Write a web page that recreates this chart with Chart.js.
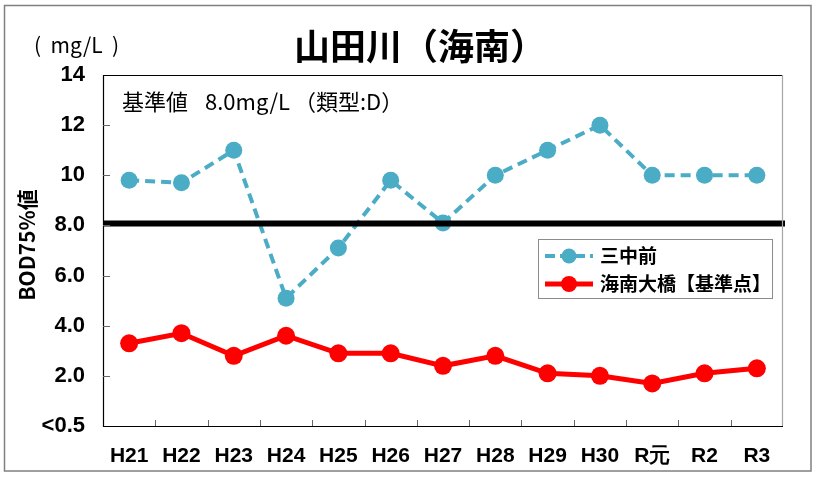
<!DOCTYPE html>
<html lang="ja">
<head>
  <meta charset="UTF-8">
  <title>山田川(海南)</title>
  <script src="https://cdn.jsdelivr.net/npm/chart.js"></script>
  <style>
    body { margin: 0; background: #fff; }
  </style>
</head>
<body>
  <canvas id="bodChart" width="818" height="479"></canvas>

  <script>
    // data
    const years = ['H21', 'H22', 'H23', 'H24', 'H25', 'H26', 'H27', 'H28', 'H29', 'H30', 'R元', 'R2', 'R3'];
    const mitakamae = [9.8, 9.7, 11.0, 5.1, 7.1, 9.8, 8.1, 10.0, 11.0, 12.0, 10.0, 10.0, 10.0];
    const kainanOhashi = [3.3, 3.7, 2.8, 3.6, 2.9, 2.9, 2.4, 2.8, 2.1, 2.0, 1.7, 2.1, 2.3];
    const seriesNames = ['三中前', '海南大橋【基準点】'];
    const yTicks = [0, 2, 4, 6, 8, 10, 12, 14];
    const yTickLabels = ['<0.5', '2.0', '4.0', '6.0', '8.0', '10', '12', '14'];
    const standardValue = 8.0;

    const CJK = '"Noto Sans CJK JP", sans-serif';
    const LAT = '"Liberation Sans", Arial, sans-serif';
    const CYAN = '#4BACC6';
    const RED = '#FF0000';

    // frame, standard line, inside ticks, texts and legend
    const decorations = {
      id: 'decorations',
      afterDatasetsDraw(chart) {
        const { ctx, chartArea: a, scales: { x, y } } = chart;
        ctx.save();

        // standard value line
        const ys = y.getPixelForValue(standardValue) - 2;
        ctx.strokeStyle = '#000';
        ctx.lineWidth = 6;
        ctx.beginPath();
        ctx.moveTo(a.left, ys);
        ctx.lineTo(a.right + 2, ys);
        ctx.stroke();

        // plot border
        ctx.lineWidth = 1.2;
        ctx.strokeStyle = '#000';
        ctx.beginPath();
        ctx.moveTo(a.right, a.top + 0.5);
        ctx.lineTo(a.left + 0.5, a.top + 0.5);
        ctx.lineTo(a.left + 0.5, a.bottom + 0.5);
        ctx.lineTo(a.right, a.bottom + 0.5);
        ctx.stroke();
        ctx.strokeStyle = '#a6a6a6';
        ctx.beginPath();
        ctx.moveTo(a.right - 0.5, a.top);
        ctx.lineTo(a.right - 0.5, a.bottom);
        ctx.stroke();

        // inside tick marks
        ctx.strokeStyle = '#666';
        ctx.lineWidth = 1;
        ctx.beginPath();
        yTicks.slice(1, -1).forEach(v => {
          const py = Math.round(y.getPixelForValue(v)) + 0.5;
          ctx.moveTo(a.left, py);
          ctx.lineTo(a.left + 7, py);
        });
        const step = (a.right - a.left) / years.length;
        for (let i = 1; i < years.length; i++) {
          const px = Math.round(a.left + step * i) + 0.5;
          ctx.moveTo(px, a.bottom);
          ctx.lineTo(px, a.bottom - 6);
        }
        ctx.stroke();
        ctx.restore();
      },
      afterDraw(chart) {
        const { ctx } = chart;
        ctx.save();
        ctx.fillStyle = '#000';
        ctx.textBaseline = 'middle';

        // title
        ctx.font = 'bold 36px ' + CJK;
        ctx.textAlign = 'left';
        ctx.fillText('山田川（海南）', 294, 46);

        // unit
        ctx.font = '21px ' + CJK;
        ctx.fillText('(  mg/L  )', 34, 45);

        // standard note
        ctx.font = '22px ' + CJK;
        ctx.fillText('基準値', 122, 102);
        ctx.fillText('8.0mg/L', 205, 102);
        ctx.fillText('（類型:D）', 294, 102);

        // y axis title
        ctx.save();
        ctx.translate(27, 245);
        ctx.rotate(-Math.PI / 2);
        ctx.textAlign = 'center';
        ctx.font = 'bold 21px ' + CJK;
        ctx.fillText('BOD75%値', 0, 0);
        ctx.restore();

        // legend
        ctx.fillStyle = '#fff';
        ctx.fillRect(538, 239, 234, 59);
        ctx.strokeStyle = '#8c8c8c';
        ctx.lineWidth = 1;
        ctx.strokeRect(538.5, 239.5, 234, 59);

        const rows = [
          { y: 256, color: CYAN, dash: [10, 5], width: 4, r: 7.5 },
          { y: 284, color: RED, dash: [], width: 5, r: 8 }
        ];
        rows.forEach((row, i) => {
          ctx.strokeStyle = row.color;
          ctx.fillStyle = row.color;
          ctx.lineWidth = row.width;
          ctx.setLineDash(row.dash);
          ctx.beginPath();
          ctx.moveTo(545, row.y);
          ctx.lineTo(593, row.y);
          ctx.stroke();
          ctx.setLineDash([]);
          ctx.beginPath();
          ctx.arc(569, row.y, row.r, 0, Math.PI * 2);
          ctx.fill();
          ctx.fillStyle = '#000';
          ctx.font = 'bold 19px ' + CJK;
          ctx.textAlign = 'left';
          ctx.fillText(seriesNames[i], 600, row.y);
        });

        // outer border
        ctx.strokeStyle = '#808080';
        ctx.lineWidth = 1.5;
        ctx.strokeRect(4.5, 5.5, 806.5, 465.5);
        ctx.restore();
      }
    };

    const ctx = document.getElementById('bodChart').getContext('2d');
    new Chart(ctx, {
      type: 'line',
      data: {
        labels: years,
        datasets: [
          {
            label: seriesNames[0],
            data: mitakamae,
            borderColor: CYAN,
            backgroundColor: CYAN,
            borderWidth: 4,
            borderDash: [10, 6],
            pointRadius: 8.5,
            pointBorderWidth: 0,
            pointBackgroundColor: CYAN,
            tension: 0
          },
          {
            label: seriesNames[1],
            data: kainanOhashi,
            borderColor: RED,
            backgroundColor: RED,
            borderWidth: 5,
            pointRadius: 9,
            pointBorderWidth: 0,
            pointBackgroundColor: RED,
            tension: 0
          }
        ]
      },
      options: {
        responsive: false,
        animation: false,
        layout: { padding: { top: 75, right: 35, left: 0, bottom: 0 } },
        plugins: {
          legend: { display: false },
          tooltip: { enabled: false }
        },
        scales: {
          x: {
            offset: true,
            grid: { display: false },
            border: { display: false },
            ticks: {
              color: '#000',
              font: { family: LAT, size: 21, weight: 'bold' },
              padding: 10,
              maxRotation: 0,
              autoSkip: false
            },
            afterFit: s => { s.height = 53; }
          },
          y: {
            min: 0,
            max: 14,
            grid: { display: false },
            border: { display: false },
            afterBuildTicks: s => { s.ticks = yTicks.map(v => ({ value: v })); },
            ticks: {
              color: '#000',
              font: { family: LAT, size: 22, weight: 'bold' },
              padding: 10,
              callback: v => yTickLabels[yTicks.indexOf(v)]
            },
            afterFit: s => { s.width = 103; }
          }
        }
      },
      plugins: [decorations]
    });
  </script>
</body>
</html>
